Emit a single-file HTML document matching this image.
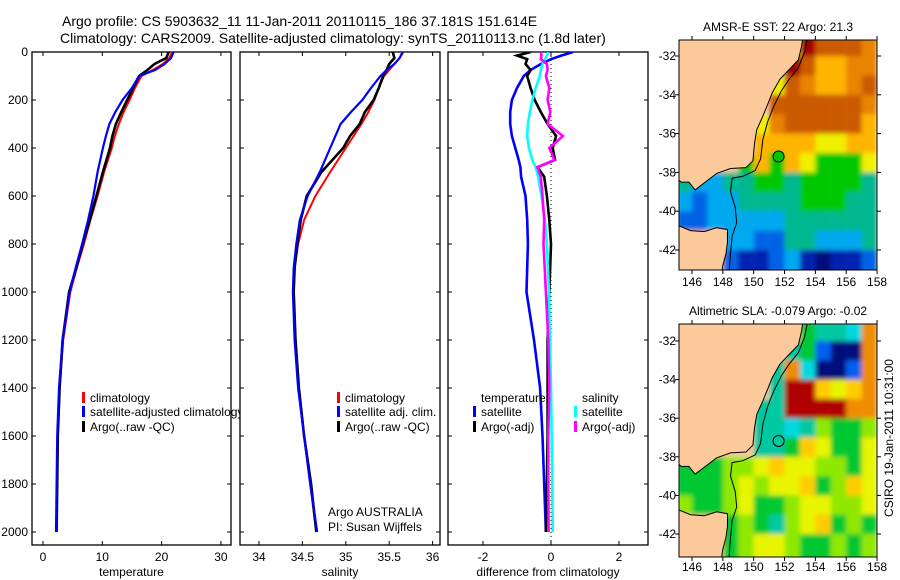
<!DOCTYPE html>
<html><head><meta charset="utf-8"><style>
body{margin:0;background:#fff;}
svg{display:block;font-family:"Liberation Sans",sans-serif;}
</style></head><body>
<svg id="chart" width="900" height="580" xmlns="http://www.w3.org/2000/svg">
<text x="62" y="26" font-size="14">Argo profile: CS 5903632_11 11-Jan-2011 20110115_186 37.181S 151.614E</text>
<text x="60" y="43" font-size="14">Climatology: CARS2009. Satellite-adjusted climatology: synTS_20110113.nc (1.8d later)</text>
</svg>
<script>
// ---------- data ----------
const depths = [0,25,50,75,100,150,200,250,300,350,400,500,600,700,800,900,1000,1200,1400,1600,1800,2000];
const tempClim = [21.8,21.3,20.2,18.5,16.6,15.5,14.6,13.6,12.8,12.1,11.6,10.3,9.2,8.0,6.9,5.7,4.6,3.4,2.8,2.5,2.4,2.3];
const tempSat  = [22,21.6,20.5,18.9,16.2,15.0,13.4,12.2,11.2,10.6,10.1,9.2,8.5,7.6,6.6,5.5,4.5,3.3,2.7,2.4,2.3,2.2];
const tempArgo = [21.2,20.8,18.8,17.6,16.2,15.2,14.2,13.2,12.3,11.7,11.3,10.1,9.0,7.9,6.7,5.6,4.4,3.3,2.8,2.5,2.4,2.3];
const salClim = [35.65,35.62,35.56,35.50,35.44,35.38,35.33,35.26,35.18,35.09,35.0,34.82,34.65,34.52,34.45,34.41,34.40,34.42,34.46,34.52,34.59,34.66];
const salSat  = [35.66,35.62,35.56,35.47,35.40,35.29,35.19,35.06,34.94,34.88,34.82,34.70,34.56,34.47,34.43,34.40,34.39,34.41,34.45,34.52,34.59,34.67];
const salArgo = [35.54,35.56,35.50,35.47,35.43,35.38,35.32,35.22,35.16,35.05,34.97,34.72,34.55,34.48,34.44,34.41,34.40,34.42,34.46,34.52,34.60,34.66];
const diffDepths = [0,15,30,50,75,100,150,200,250,300,350,400,450,480,520,600,700,800,1000,1200,1400,1600,1800,2000];
const diffTempSat  = [0.65,0.3,0,-0.3,-0.6,-0.8,-1.0,-1.15,-1.2,-1.2,-1.15,-1.05,-0.95,-0.9,-0.88,-0.75,-0.7,-0.68,-0.72,-0.5,-0.32,-0.25,-0.2,-0.15];
const diffTempArgo = [-0.6,-1.0,-0.7,-0.75,-0.6,-0.7,-0.6,-0.48,-0.3,-0.1,0.15,0.05,0.12,-0.4,-0.2,-0.12,-0.05,0,-0.05,-0.1,-0.1,-0.1,-0.12,-0.15];
const diffSalSat   = [-0.08,-0.12,-0.18,-0.25,-0.3,-0.33,-0.45,-0.55,-0.62,-0.68,-0.7,-0.65,-0.55,-0.45,-0.38,-0.28,-0.18,-0.12,-0.06,-0.03,0,0.02,0.04,0.05];
const diffSalArgo  = [-0.3,-0.28,-0.3,-0.12,-0.1,-0.15,-0.05,-0.1,-0.02,-0.1,0.35,-0.05,0.1,-0.4,-0.3,-0.25,-0.2,-0.22,-0.15,-0.08,-0.05,-0.08,-0.08,-0.07];
const depthTicks = [0,200,400,600,800,1000,1200,1400,1600,1800,2000];
const tempTicks = [0,10,20,30];
const salTicks = [34,34.5,35,35.5,36];
const salTickLabels = ["34","34.5","35","35.5","36"];
const diffTicks = [-2,0,2];
const lonTicks = [146,148,150,152,154,156,158];
const latTicks = [-32,-34,-36,-38,-40,-42];
const sstGrid = [".......yROOOo",".......ROYYoo","......yOoYYoO","......OOOOOOo",".....yoOOOOOY",".....YYYYyyYY","....GYGYyGGGy","gccggGGgGGGGg","cbccggggGGGgg","bbcccccgggggg","...ccbbggcccg","...bBBbcBNBBb","...bBBbcBNBBb"];
const slaGrid = ["........Gttco",".......tGbNNo","......tocNNbo","......tRRYyYo",".....ttRRRRoo",".....ttctlGGl",".....ttGYyGGy","GGGllyYyyllGy","GGGlylyyYGlYy","lGGlyGGlyylly","...GlGtlyYGlG","...GlyylGGlGl","...GlyylGGlGl"];
const coastMain = [[145,-31],[153.2,-31],[153.1,-31.5],[152.9,-32.2],[152.3,-32.7],[151.7,-33.2],[151.2,-33.9],[150.9,-34.5],[150.6,-35.1],[150.2,-35.8],[150.05,-36.5],[149.95,-37.4],[149.5,-37.75],[148.5,-37.8],[147.6,-38.05],[146.7,-38.6],[146.2,-38.9],[145.8,-38.5],[145.3,-38.5],[145,-38.3]];
const coastTas = [[145,-40.7],[145.9,-41.0],[146.8,-41.05],[147.6,-40.85],[148.3,-40.95],[148.3,-41.6],[148.2,-42.2],[148,-42.8],[147.9,-43.3],[145,-43.3]];
const contour = [[153.5,-31],[153.3,-31.8],[152.9,-32.6],[152.3,-33.2],[151.8,-33.8],[151.3,-34.6],[150.9,-35.4],[150.6,-36.3],[150.45,-37.3],[150.1,-37.9],[149.3,-38.2],[148.6,-38.3],[148.5,-39.0],[148.8,-39.8],[148.9,-40.6],[148.6,-41.3],[148.5,-42.2],[148.4,-43.3]];
const argoPos = [151.614,-37.181];

// ---------- helpers ----------
const NS = "http://www.w3.org/2000/svg";
const svg = document.getElementById("chart");
function mk(tag, attrs, parent){const e=document.createElementNS(NS,tag);for(const k in attrs)e.setAttribute(k,attrs[k]);(parent||svg).appendChild(e);return e;}
function txt(x,y,s,size,anchor,parent){const t=mk("text",{x:x,y:y,"font-size":size||12,"text-anchor":anchor||"start"},parent);t.textContent=s;return t;}

const PT=52, PB=545;
const yD = d => 52 + d*0.24;
const panels = [
 {x0:32,x1:231,sx:v=>43+v*5.93,ticks:tempTicks,labels:tempTicks.map(String),title:"temperature",name:"temperature-panel"},
 {x0:240,x1:440,sx:v=>259+(v-34)*86.8,ticks:salTicks,labels:salTickLabels,title:"salinity",name:"salinity-panel"},
 {x0:448,x1:648,sx:v=>551+v*34,ticks:diffTicks,labels:diffTicks.map(String),title:"difference from climatology",name:"difference-panel"}
];

panels.forEach((p,i)=>{
  const g=mk("g",{});
  
  
  const cp=mk("clipPath",{id:"clip"+i},g);
  mk("rect",{x:p.x0,y:PT,width:p.x1-p.x0,height:PB-PT},cp);
  const lcp=mk("clipPath",{id:"lclip"+i},g);
  mk("rect",{x:p.x0,y:PT,width:p.x1-p.x0+9,height:PB-PT},lcp);
  mk("rect",{x:p.x0,y:PT,width:p.x1-p.x0,height:PB-PT,fill:"#fff",stroke:"#000","stroke-width":1.3},g);
  depthTicks.forEach(d=>{
    mk("line",{x1:p.x0,x2:p.x0+4,y1:yD(d),y2:yD(d),stroke:"#000"},g);
    mk("line",{x1:p.x1-4,x2:p.x1,y1:yD(d),y2:yD(d),stroke:"#000"},g);
  });
  p.ticks.forEach((t,k)=>{
    const x=p.sx(t);
    mk("line",{x1:x,x2:x,y1:PB,y2:PB-4,stroke:"#000"},g);
    mk("line",{x1:x,x2:x,y1:PT,y2:PT+4,stroke:"#000"},g);
    const l=txt(x,561,p.labels[k],12,"middle",g);
    
    
  });
  const at=txt((p.x0+p.x1)/2,576,p.title,12,"middle",g);
  
  
  p.g=g; p.clip="url(#clip"+i+")"; p.lclip="url(#lclip"+i+")";
});
depthTicks.forEach(d=>{
  const l=txt(28,yD(d)+4,String(d),12,"end");
  
  
});

function series(p,vals,ds,color,name,w){
  const pts=vals.map((v,k)=>p.sx(v).toFixed(1)+","+yD(ds[k]).toFixed(1)).join(" ");
  const l=mk("polyline",{points:pts,fill:"none",stroke:color,"stroke-width":w||2.2,"clip-path":p.clip},p.g);
  
  
}
const zl=mk("line",{x1:panels[2].sx(0),x2:panels[2].sx(0),y1:PT,y2:PB,stroke:"#000","stroke-dasharray":"1,3"},panels[2].g);



series(panels[0],tempClim,depths,"#ff0000","temp-climatology-line",2);
series(panels[0],tempArgo,depths,"#000","temp-argo-line",2.6);
series(panels[0],tempSat,depths,"#0000ff","temp-satellite-line",2.2);
series(panels[1],salClim,depths,"#ff0000","sal-climatology-line",2);
series(panels[1],salArgo,depths,"#000","sal-argo-line",2.6);
series(panels[1],salSat,depths,"#0000ff","sal-satellite-line",2.2);
series(panels[2],diffTempSat,diffDepths,"#0000ff","diff-temp-satellite-line",2.6);
series(panels[2],diffTempArgo,diffDepths,"#000","diff-temp-argo-line",2.6);
series(panels[2],diffSalSat,diffDepths,"#00ffff","diff-sal-satellite-line",2.6);
series(panels[2],diffSalArgo,diffDepths,"#ff00ff","diff-sal-argo-line",2.6);

function legend(p,x,y,color,label){
  const g=mk("g",{"clip-path":p.lclip},svg);
  
  
  if(color) mk("rect",{x:x-8,y:y-10,width:3,height:11,fill:color},g);
  txt(x,y,label,12,"start",g);
}
legend(panels[0],90,402,"#ff0000","climatology");
legend(panels[0],90,416,"#0000ff","satellite-adjusted climatology");
legend(panels[0],90,431,"#000","Argo(..raw -QC)");
legend(panels[1],345,402,"#ff0000","climatology");
legend(panels[1],345,416,"#0000ff","satellite adj. clim.");
legend(panels[1],345,431,"#000","Argo(..raw -QC)");
legend(panels[2],481,402,null,"temperature");
legend(panels[2],481,416,"#0000ff","satellite");
legend(panels[2],481,431,"#000","Argo(-adj)");
legend(panels[2],582,402,null,"salinity");
legend(panels[2],582,416,"#00ffff","satellite");
legend(panels[2],582,431,"#ff00ff","Argo(-adj)");
const c1=txt(328,516,"Argo AUSTRALIA",12,"start",panels[1].g);


const c2=txt(328,531,"PI: Susan Wijffels",12,"start",panels[1].g);



// ---------- maps ----------
const sstCols={R:"#a40000",O:"#cc5a00",o:"#e88400",Y:"#ffb400",y:"#f0f000",G:"#00c800",g:"#00b890",c:"#00a8f0",b:"#0064e6",B:"#0024b0",N:"#00107a",".":"#fbc99a"};
const slaCols={N:"#00087c",b:"#0060f0",c:"#00d8e0",t:"#00c8a0",G:"#00c832",l:"#90e800",y:"#e8f400",Y:"#ffcc00",o:"#f08c00",R:"#b00000",".":"#fbc99a"};
function drawMap(id,top,bot,latTop,pxLat,grid,cols,title,circleFill,xlabY){
  const g=mk("g",{});
  
  
  const X0=679,X1=877;
  const lx=lon=>692+(lon-146)*15.42;
  const ly=lat=>latTop+(-32-lat)*pxLat;
  const cp=mk("clipPath",{id:id+"-clip"},g);
  mk("rect",{x:X0,y:top,width:X1-X0,height:bot-top},cp);
  const flt=mk("filter",{id:id+"-blur",x:"-10%",y:"-10%",width:"120%",height:"120%"},g);
  mk("feGaussianBlur",{stdDeviation:2.5},flt);
  const cg=mk("g",{"clip-path":"url(#"+id+"-clip)"},g);
  const cells=mk("g",{filter:"url(#"+id+"-blur)"},cg);
  grid.forEach((row,r)=>{
    for(let c=0;c<row.length;c++){
      const lon=145+c, lat=-31-r;
      const cell=mk("rect",{x:lx(lon),y:ly(lat),width:15.6,height:pxLat+0.6,fill:cols[row[c]]},cells);
      
      
    }
  });
  const toPts=a=>a.map(q=>lx(q[0]).toFixed(1)+","+ly(q[1]).toFixed(1)).join(" ");
  const land1=mk("polygon",{points:toPts(coastMain),fill:"#fbc99a",stroke:"#000","stroke-width":1},cg);
  
  
  const land2=mk("polygon",{points:toPts(coastTas),fill:"#fbc99a",stroke:"#000","stroke-width":1},cg);
  
  
  const ct=mk("polyline",{points:toPts(contour),fill:"none",stroke:"#000","stroke-width":1},cg);
  
  
  const ci=mk("circle",{cx:lx(argoPos[0]),cy:ly(argoPos[1]),r:5.5,fill:circleFill,stroke:"#000","stroke-width":1},cg);
  
  
  mk("rect",{x:X0,y:top,width:X1-X0,height:bot-top,fill:"none",stroke:"#000","stroke-width":1},g);
  lonTicks.forEach(l=>{
    mk("line",{x1:lx(l),x2:lx(l),y1:bot,y2:bot+4,stroke:"#000"},g);
    mk("line",{x1:lx(l),x2:lx(l),y1:top,y2:top-4,stroke:"#000"},g);
    const t=txt(lx(l),xlabY,String(l),12,"middle",g);
    
    
  });
  latTicks.forEach(l=>{
    mk("line",{x1:X0,x2:X0-4,y1:ly(l),y2:ly(l),stroke:"#000"},g);
    mk("line",{x1:X1,x2:X1+4,y1:ly(l),y2:ly(l),stroke:"#000"},g);
    const t=txt(X0-3,ly(l)+4,String(l),12,"end",g);
    
    
  });
  const tt=txt(778,top-9,title,12,"middle",g);
  
  
}
drawMap("sst-map",40,270,56,19.4,sstGrid,sstCols,"AMSR-E SST: 22 Argo: 21.3","#00c800",286);
drawMap("sla-map",324,557,341,19.3,slaGrid,slaCols,"Altimetric SLA: -0.079 Argo: -0.02","none",571);
const st=txt(0,0,"CSIRO 19-Jan-2011 10:31:00",12,"middle");
st.setAttribute("transform","translate(893,438) rotate(-90)");


</script>
</body></html>
